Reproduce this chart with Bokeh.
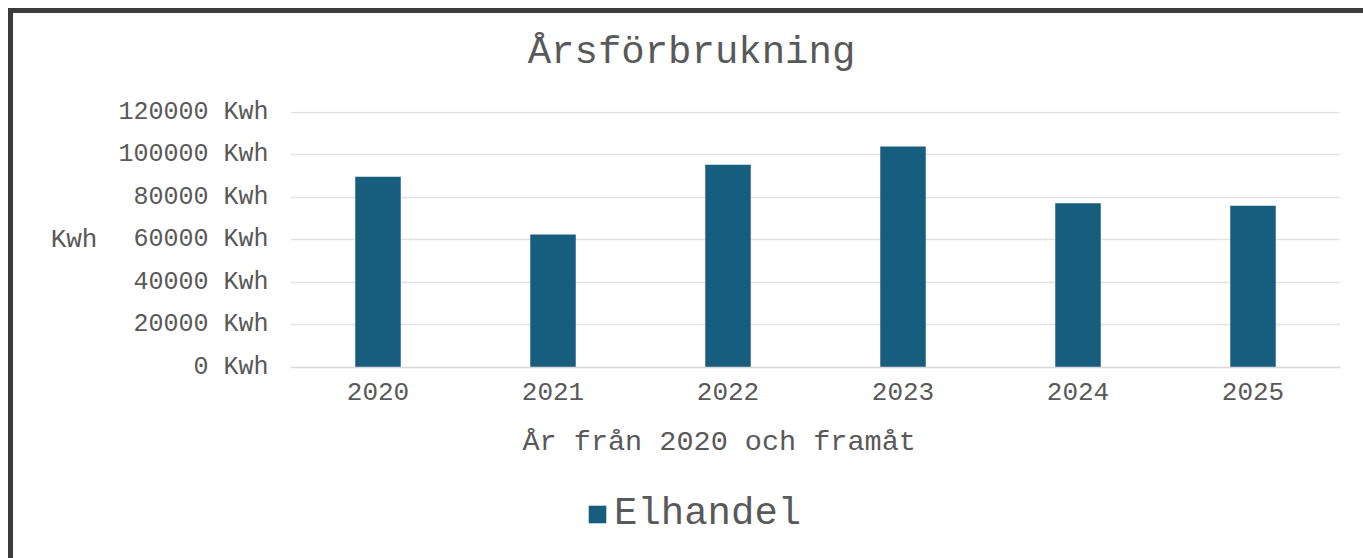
from bokeh.plotting import figure
from bokeh.layouts import column
from bokeh.models import (Range1d, SingleIntervalTicker, PrintfTickFormatter,
                          Title, Label, Legend, LegendItem, ColumnDataSource)
from bokeh.embed import file_html
from bokeh.resources import INLINE

years = ["2020", "2021", "2022", "2023", "2024", "2025"]
elhandel = [89700, 62500, 95400, 103900, 77200, 76100]
y_ticks_interval = 20000
title_text = "Årsförbrukning"
x_label = "År från 2020 och framåt"
y_label = "Kwh"
series_name = "Elhandel"

FONT = "Liberation Mono"
TXT = "#595959"
BAR = "#175e7e"
W = 1350

src = ColumnDataSource(dict(x=years, y=elhandel))

def strip(h, x_range, y_range):
    f = figure(width=W, height=h, x_range=x_range, y_range=y_range,
               x_axis_type=None, y_axis_type=None, min_border=0,
               output_backend="svg", toolbar_location=None)
    f.outline_line_color = None
    f.background_fill_color = "white"
    f.border_fill_color = "white"
    f.grid.visible = False
    return f

# title strip (frame is aligned with the main chart's frame by the column)
tf = strip(78, Range1d(0, 1), Range1d(0, 1))
tf.add_layout(Label(x=401, y=39, x_units="screen", y_units="screen", text=title_text,
                    text_font=FONT, text_font_size="39px", text_color=TXT,
                    text_align="center", text_baseline="middle"))

# main chart
p = figure(x_range=years, y_range=Range1d(0, 120400),
           frame_width=1050, frame_height=256,
           min_border_left=277, min_border_right=W - 277 - 1050,
           min_border_top=20, min_border_bottom=125,
           output_backend="svg", toolbar_location=None)
p.outline_line_color = None
p.background_fill_color = "white"
p.border_fill_color = "white"

r = p.vbar(x="x", top="y", width=0.26, source=src, fill_color=BAR, line_color=None)

p.xgrid.grid_line_color = None
p.ygrid.grid_line_color = "#e3e3e3"
p.ygrid.grid_line_width = 1.5

p.yaxis.ticker = SingleIntervalTicker(interval=y_ticks_interval)
p.yaxis.formatter = PrintfTickFormatter(format="%d Kwh")
p.yaxis.axis_line_color = None
p.yaxis.major_tick_line_color = None
p.yaxis.minor_tick_line_color = None
p.yaxis.major_label_standoff = 16
p.yaxis.major_label_text_font = FONT
p.yaxis.major_label_text_font_size = "25px"
p.yaxis.major_label_text_color = TXT
p.yaxis.axis_label = y_label
p.yaxis.axis_label_orientation = "horizontal"
p.yaxis.axis_label_standoff = 18
p.yaxis.axis_label_text_font = FONT
p.yaxis.axis_label_text_font_size = "26px"
p.yaxis.axis_label_text_font_style = "normal"
p.yaxis.axis_label_text_color = TXT

p.xaxis.axis_line_color = "#d9d9d9"
p.xaxis.axis_line_width = 1.5
p.xaxis.major_tick_line_color = None
p.xaxis.minor_tick_line_color = None
p.xaxis.major_label_standoff = 9
p.xaxis.major_label_text_font = FONT
p.xaxis.major_label_text_font_size = "26px"
p.xaxis.major_label_text_color = TXT

p.add_layout(Title(text=x_label, align="left", offset=232, standoff=43,
                   text_font=FONT, text_font_size="28.5px", text_color=TXT,
                   text_font_style="normal"), "below")

# legend strip: same series with zero width, used only as the legend's glyph source
lf = strip(545 - 78 - 401, years, Range1d(-2, -1))
lr = lf.vbar(x="x", top="y", width=0, source=src, fill_color=BAR, line_color=None)
legend = Legend(items=[LegendItem(label=series_name, renderers=[lr])],
                location=(296, 22), orientation="horizontal",
                glyph_width=22, glyph_height=22, label_standoff=6,
                label_text_font=FONT, label_text_font_size="39px", label_text_color=TXT,
                padding=0, margin=0, border_line_color=None, background_fill_alpha=0)
lf.add_layout(legend)

layout = column(tf, p, lf, spacing=0)
layout.styles = {"margin-left": "8px", "margin-top": "8px",
                 "border-top": "5px solid #3c3c3c", "border-left": "5px solid #3c3c3c"}

open("out.html", "w").write(file_html(layout, INLINE))
